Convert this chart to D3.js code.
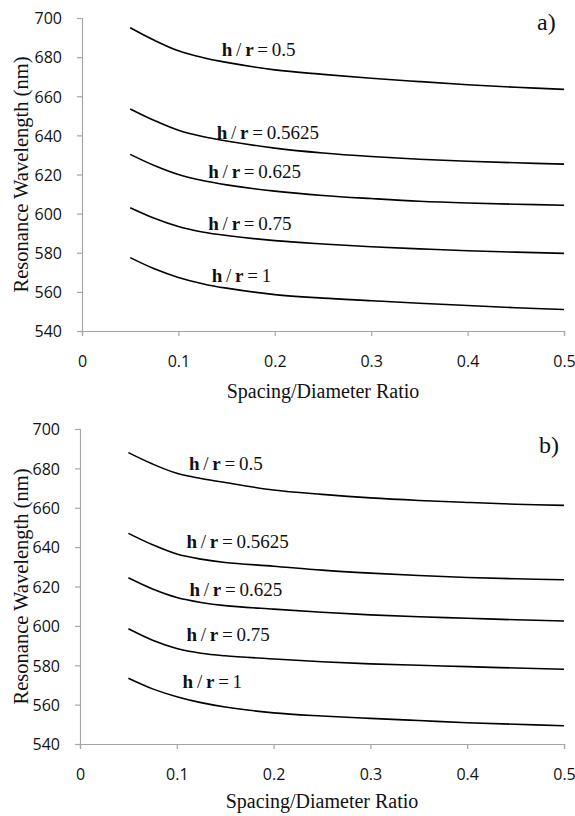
<!DOCTYPE html>
<html>
<head>
<meta charset="utf-8">
<script src="https://cdn.jsdelivr.net/npm/d3@7"></script>
<style>
  html, body { margin: 0; padding: 0; background: #fff; }
  svg { display: block; }
</style>
</head>
<body>
<svg id="chart" width="575" height="816"></svg>
<script>
// Spacing/diameter ratios at which the resonance wavelength was computed
const spacing = [0.05, 0.075, 0.1, 0.125, 0.15, 0.2, 0.25, 0.3, 0.35, 0.4, 0.45, 0.5];

// Height / radius ratio of each curve
const hrRatios = ["0.5", "0.5625", "0.625", "0.75", "1"];

// Panel a) resonance wavelength (nm), one row per h/r ratio
const wavelengthA = [
  [695.0, 688.6, 683.2, 679.8, 677.3, 673.5, 671.2, 669.2, 667.5, 665.9, 664.6, 663.5],
  [653.5, 647.6, 642.6, 639.4, 637.1, 633.5, 631.0, 629.2, 627.8, 626.8, 626.0, 625.3],
  [630.3, 624.6, 620.0, 616.9, 614.7, 611.5, 609.3, 607.7, 606.3, 605.4, 604.8, 604.3],
  [603.0, 597.6, 593.4, 590.6, 588.8, 586.2, 584.5, 583.1, 582.0, 581.0, 580.3, 579.7],
  [577.5, 571.8, 567.4, 564.2, 561.9, 558.6, 556.8, 555.5, 554.2, 553.0, 551.9, 551.0]
];

// Panel b) resonance wavelength (nm), one row per h/r ratio
const wavelengthB = [
  [688.0, 682.2, 677.5, 674.9, 672.8, 669.0, 666.8, 665.0, 663.7, 662.7, 661.8, 661.2],
  [647.0, 641.2, 636.5, 633.9, 632.2, 630.3, 628.3, 626.8, 625.6, 624.6, 623.9, 623.4],
  [624.4, 618.7, 614.4, 611.9, 610.3, 608.5, 606.9, 605.6, 604.6, 603.9, 603.1, 602.5],
  [598.5, 592.7, 588.5, 586.1, 584.8, 583.2, 581.8, 580.7, 580.0, 579.3, 578.6, 578.0],
  [573.4, 568.0, 564.0, 561.0, 558.8, 555.8, 554.2, 553.0, 551.9, 550.8, 550.0, 549.3]
];

// Axis ticks
const xTicks = [0, 0.1, 0.2, 0.3, 0.4, 0.5];
const yTicks = [540, 560, 580, 600, 620, 640, 660, 680, 700];

// Where each h/r annotation starts, in data units [spacing, wavelength]
const labelAnchorsA = [[0.145, 680.6], [0.1397, 638.1], [0.131, 618.4], [0.131, 591.6], [0.1345, 565.0]];
const labelAnchorsB = [[0.1126, 679.3], [0.110, 639.5], [0.113, 615.1], [0.110, 592.4], [0.106, 568.3]];

const svg = d3.select("#chart");
svg.append("rect").attr("width", 575).attr("height", 816).attr("fill", "#fff");

const AXIS_COLOR = "#a6a6a6";
const TICK_FONT = "'Open Sans', 'Liberation Sans', sans-serif";
const SERIF = "'Liberation Serif', 'Times New Roman', serif";

function drawPanel(opts) {
  const { values, anchors, tag, left, right, top, bottom } = opts;
  const x = d3.scaleLinear().domain([0, 0.5]).range([left, right]);
  const y = d3.scaleLinear().domain([540, 700]).range([bottom, top]);
  const g = svg.append("g");

  // x axis
  const xAxis = g.append("g")
    .attr("transform", `translate(0,${bottom})`)
    .call(d3.axisBottom(x).tickValues(xTicks).tickSize(5).tickPadding(20)
      .tickFormat(d => d === 0 ? "0" : d3.format(".1f")(d)));
  // y axis
  const yAxis = g.append("g")
    .attr("transform", `translate(${left},0)`)
    .call(d3.axisLeft(y).tickValues(yTicks).tickSize(5).tickPadding(15)
      .tickFormat(d3.format("d")));

  [xAxis, yAxis].forEach(a => {
    a.select(".domain").attr("stroke", AXIS_COLOR).attr("stroke-width", 1.2);
    a.selectAll(".tick line").attr("stroke", AXIS_COLOR).attr("stroke-width", 1.2);
    a.selectAll(".tick text")
      .attr("fill", "#111")
      .style("font-family", TICK_FONT)
      .style("font-size", "16px");
  });
  yAxis.selectAll(".tick text").attr("dy", "0.36em");

  // Axis titles
  g.append("text")
    .attr("x", (left + right) / 2)
    .attr("y", bottom + opts.xTitleGap)
    .attr("text-anchor", "middle")
    .style("font-family", SERIF)
    .style("font-size", "20px")
    .attr("fill", "#111")
    .text("Spacing/Diameter Ratio");

  g.append("text")
    .attr("transform", `translate(28,${(top + bottom) / 2}) rotate(-90)`)
    .attr("text-anchor", "middle")
    .style("font-family", SERIF)
    .style("font-size", "20.5px")
    .attr("fill", "#111")
    .text("Resonance Wavelength (nm)");

  // Curves
  const line = d3.line()
    .x((d, i) => x(spacing[i]))
    .y(d => y(d))
    .curve(d3.curveCatmullRom.alpha(0.5));

  g.selectAll("path.curve")
    .data(values)
    .join("path")
    .attr("class", "curve")
    .attr("d", line)
    .attr("fill", "none")
    .attr("stroke", "#000")
    .attr("stroke-width", 1.6);

  // h / r annotations
  anchors.forEach((a, i) => {
    const t = g.append("text")
      .attr("x", x(a[0]))
      .attr("y", y(a[1]))
      .style("font-family", SERIF)
      .style("font-size", "19px")
      .style("word-spacing", "-1px")
      .attr("fill", "#111");
    t.append("tspan").attr("font-weight", "bold").text("h");
    t.append("tspan").text(" / ");
    t.append("tspan").attr("font-weight", "bold").text("r");
    t.append("tspan").text(" = " + hrRatios[i]);
  });

  // Panel tag
  g.append("text")
    .attr("x", opts.tagX)
    .attr("y", opts.tagY)
    .style("font-family", SERIF)
    .style("font-size", "24px")
    .attr("fill", "#111")
    .text(tag);
}

drawPanel({ values: wavelengthA, anchors: labelAnchorsA, tag: "a)",
  left: 82, right: 564, top: 18, bottom: 331, xTitleGap: 67, tagX: 537, tagY: 30 });
drawPanel({ values: wavelengthB, anchors: labelAnchorsB, tag: "b)",
  left: 80, right: 564, top: 429, bottom: 744, xTitleGap: 64, tagX: 539, tagY: 453 });
</script>
</body>
</html>
